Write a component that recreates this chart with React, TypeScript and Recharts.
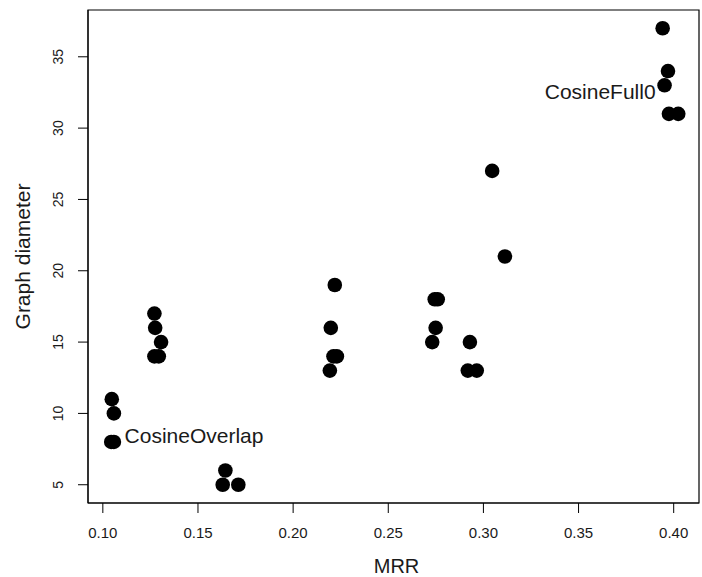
import React from 'react';
import { ScatterChart, Scatter, XAxis, YAxis, ReferenceArea } from 'recharts';

// MRR vs graph diameter, one entry per run
const mrr = [
  0.1047, 0.1058, 0.1044, 0.1058,
  0.1271, 0.1275, 0.1306, 0.1271, 0.1294,
  0.1644, 0.163, 0.1712,
  0.2219, 0.2198, 0.2212, 0.223, 0.2193,
  0.2744, 0.276, 0.2749, 0.2731,
  0.2929, 0.2918, 0.2965,
  0.3046, 0.3113,
  0.3942, 0.397, 0.3952, 0.3975, 0.4024,
];
const diameter = [
  11, 10, 8, 8,
  17, 16, 15, 14, 14,
  6, 5, 5,
  19, 16, 14, 14, 13,
  18, 18, 16, 15,
  15, 13, 13,
  27, 21,
  37, 34, 33, 31, 31,
];

const xTicks = [0.1, 0.15, 0.2, 0.25, 0.3, 0.35, 0.4];
const yTicks = [5, 10, 15, 20, 25, 30, 35];
const xDomain = [0.0922, 0.4133];
const yDomain = [3.72, 38.28];

// text annotations
const noteLabels = ['CosineOverlap', 'CosineFull0'];
const noteMrr = [0.1114, 0.3905];
const noteDiameter = [8.42, 32.6];
const noteAnchor = ['start', 'end'];

const points = mrr.map((x, i) => ({ x, y: diameter[i] }));
const notes = noteLabels.map((label, i) => ({
  x: noteMrr[i],
  y: noteDiameter[i],
  label,
  anchor: noteAnchor[i],
}));

const FONT = '"Liberation Sans", Arial, sans-serif';
const INK = '#1a1a1a';

const YTick = (props: any) => {
  const { x, y, payload } = props;
  return (
    <text
      transform={`translate(${x - 13},${y}) rotate(-90)`}
      textAnchor="middle"
      fontSize={14}
      fontFamily={FONT}
      fill={INK}
    >
      {payload.value}
    </text>
  );
};

const YTitle = (props: any) => {
  const vb = props.viewBox || { x: 0, y: 10, width: 88, height: 493 };
  const cx = vb.x + 22;
  const cy = vb.y + vb.height / 2;
  return (
    <text
      transform={`translate(${cx},${cy}) rotate(-90)`}
      textAnchor="middle"
      dominantBaseline="central"
      fontSize={21}
      fontFamily={FONT}
      fill={INK}
    >
      Graph diameter
    </text>
  );
};

const XTitle = (props: any) => {
  const vb = props.viewBox || { x: 88, y: 503, width: 611, height: 74 };
  return (
    <text
      x={vb.x + vb.width / 2 + 3}
      y={vb.y + 70}
      textAnchor="middle"
      fontSize={20}
      fontFamily={FONT}
      fill={INK}
    >
      MRR
    </text>
  );
};

const Dot = (props: any) => <circle cx={props.cx} cy={props.cy} r={7.3} fill="#000" />;

const Note = (props: any) => (
  <text
    x={props.cx}
    y={props.cy}
    textAnchor={props.payload.anchor}
    dominantBaseline="central"
    fontSize={21}
    fontFamily={FONT}
    fill={INK}
  >
    {props.payload.label}
  </text>
);

export default function App() {
  return (
    <div style={{ position: 'absolute', left: 0, top: 0, background: '#fff' }}>
      <ScatterChart width={702} height={577} margin={{ top: 10, right: 3, left: 0, bottom: 0 }}>
        <XAxis
          type="number"
          dataKey="x"
          domain={xDomain}
          ticks={xTicks}
          allowDataOverflow
          height={74}
          tickSize={10}
          tickMargin={14}
          stroke="#000"
          tick={{ fontSize: 15, fontFamily: FONT, fill: INK }}
          tickFormatter={(v: number) => v.toFixed(2)}
          label={{ content: XTitle }}
        />
        <YAxis
          type="number"
          dataKey="y"
          domain={yDomain}
          ticks={yTicks}
          allowDataOverflow
          width={88}
          tickSize={10}
          stroke="#000"
          tick={YTick}
          label={{ content: YTitle }}
        />
        <ReferenceArea
          x1={xDomain[0]}
          x2={xDomain[1]}
          y1={yDomain[0]}
          y2={yDomain[1]}
          fill="none"
          stroke="#000"
          strokeWidth={1.2}
          ifOverflow="visible"
        />
        <Scatter data={points} shape={Dot} isAnimationActive={false} />
        <Scatter data={notes} shape={Note} isAnimationActive={false} />
      </ScatterChart>
    </div>
  );
}
